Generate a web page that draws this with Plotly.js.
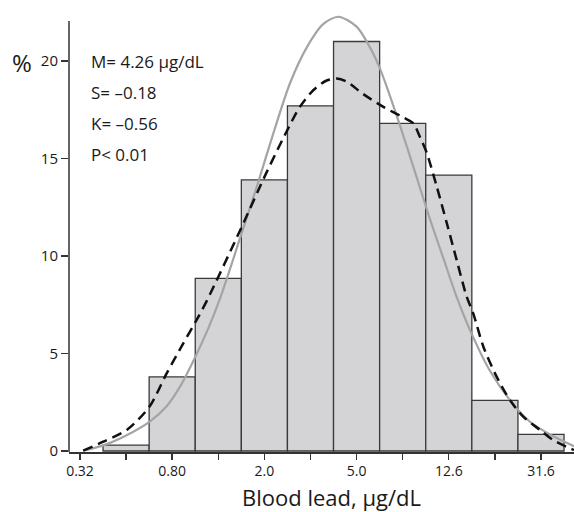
<!DOCTYPE html>
<html>
<head>
<meta charset="utf-8">
<script src="https://cdn.plot.ly/plotly-3.0.1.min.js"></script>
<style>html,body{margin:0;padding:0;background:#fff;}</style>
</head>
<body>
<div id="chart" style="width:574px;height:512px;"></div>
<script>
// Histogram bins: centres in log10(µg/dL), bar heights in %
const binCentersLog10 = [-0.3, -0.1, 0.1, 0.3, 0.5, 0.7, 0.9, 1.1, 1.3, 1.5];
const binPercent = [0.3, 3.8, 8.85, 13.9, 17.7, 21.0, 16.8, 14.15, 2.6, 0.85];
const binWidthLog10 = 0.2;

// Fitted normal curve (grey)
const normalX = [-0.486, -0.399, -0.300, -0.199, -0.124, -0.066, -0.001, 0.057, 0.107, 0.194, 0.267, 0.339, 0.411, 0.484, 0.556, 0.621, 0.700, 0.758, 0.802, 0.845, 0.888, 0.932, 0.975, 1.018, 1.076, 1.134, 1.192, 1.279, 1.366, 1.452, 1.539, 1.643];
const normalY = [0.02, 0.29, 0.8, 1.5, 2.3, 3.3, 4.8, 6.3, 7.8, 10.9, 13.55, 16.3, 18.86, 20.7, 21.9, 22.27, 21.76, 20.7, 19.6, 18.2, 16.7, 15.1, 13.5, 11.9, 9.9, 7.9, 6.2, 4.1, 2.6, 1.5, 0.85, 0.25];

// Kernel density curve (black dashed)
const kernelX = [-0.486, -0.399, -0.297, -0.199, -0.124, -0.052, 0.006, 0.050, 0.194, 0.310, 0.397, 0.454, 0.512, 0.570, 0.614, 0.657, 0.729, 0.816, 0.903, 0.946, 0.975, 1.004, 1.048, 1.091, 1.134, 1.178, 1.206, 1.250, 1.308, 1.366, 1.423, 1.496, 1.553, 1.643];
const kernelY = [0.02, 0.48, 1.08, 2.27, 3.98, 5.52, 6.72, 7.7, 11.3, 14.3, 16.4, 17.65, 18.5, 19.0, 19.1, 18.94, 18.3, 17.65, 17.1, 16.8, 16.1, 15.3, 13.55, 11.7, 9.8, 7.9, 7.06, 5.35, 3.8, 2.6, 1.76, 1.08, 0.56, 0.05];

// Axis ticks
const xTickVals = [-0.5, -0.1, 0.3, 0.7, 1.1, 1.5];
const xTickText = ['0.32', '0.80', '2.0', '5.0', '12.6', '31.6'];
const xMinorVals = [-0.3, 0.1, 0.5, 0.9, 1.3];
const yTickVals = [0, 5, 10, 15, 20];

const xTitle = 'Blood lead, µg/dL';
const yTitle = '%';
const statLines = ['M= 4.26 µg/dL', 'S= –0.18', 'K= –0.56', 'P< 0.01'];

const FONT = 'Open Sans, Noto Sans, sans-serif';

const traces = [
  {
    type: 'bar', x: binCentersLog10, y: binPercent, width: binWidthLog10,
    marker: {color: '#d4d4d6', line: {color: '#3a3a3a', width: 1.3}},
    hoverinfo: 'skip', showlegend: false
  },
  {
    type: 'scatter', mode: 'lines', x: normalX, y: normalY,
    line: {color: '#a4a4a4', width: 2.2, shape: 'spline', smoothing: 0.8},
    showlegend: false
  },
  {
    type: 'scatter', mode: 'lines', x: kernelX, y: kernelY,
    line: {color: '#111111', width: 2.5, dash: '10px,6px', shape: 'spline', smoothing: 0.8},
    showlegend: false
  }
];

const annotations = statLines.map((t, i) => ({
  text: t, xref: 'paper', yref: 'paper',
  x: (89 - 69) / 505, xanchor: 'left',
  y: 1 - ((61 + i * 31.3) - 10) / 442, yanchor: 'middle',
  showarrow: false, font: {family: FONT, size: 17, color: '#1a1a1a'}
}));
annotations.push({
  text: yTitle, xref: 'paper', yref: 'paper',
  x: (22 - 69) / 505, xanchor: 'center',
  y: 1 - (62 - 10) / 442, yanchor: 'middle',
  showarrow: false, font: {family: FONT, size: 24, color: '#1a1a1a'}
});
annotations.push({
  text: xTitle, xref: 'paper', yref: 'paper',
  x: (331 - 69) / 505, xanchor: 'center',
  y: 1 - (497 - 10) / 442, yanchor: 'middle',
  showarrow: false, font: {family: FONT, size: 22, color: '#1a1a1a'}
});

const layout = {
  width: 574, height: 512,
  margin: {l: 69, r: 0, t: 10, b: 60},
  paper_bgcolor: '#ffffff', plot_bgcolor: '#ffffff',
  bargap: 0,
  font: {family: FONT, color: '#1a1a1a'},
  xaxis: {
    range: [-0.5477, 1.6432],
    tickmode: 'array', tickvals: xTickVals, ticktext: xTickText,
    ticks: 'outside', ticklen: 6, tickwidth: 1.4, tickcolor: '#333',
    minor: {tickmode: 'array', tickvals: xMinorVals, ticks: 'outside', ticklen: 6, tickwidth: 1.4, tickcolor: '#333', showgrid: false},
    showline: true, linecolor: '#333', linewidth: 1.5,
    showgrid: false, zeroline: false,
    tickfont: {family: FONT, size: 14, color: '#1a1a1a'}
  },
  yaxis: {
    range: [-0.05, 22.615],
    tickmode: 'array', tickvals: yTickVals,
    ticks: 'outside', ticklen: 7, tickwidth: 1.4, tickcolor: '#333',
    showline: false, showgrid: false, zeroline: false,
    tickfont: {family: FONT, size: 15, color: '#1a1a1a'}
  },
  shapes: [{
    type: 'line', xref: 'paper', yref: 'y', x0: 0, x1: 0, y0: -0.05, y1: 22.05,
    line: {color: '#333', width: 1.5}
  }],
  annotations: annotations
};

Plotly.newPlot('chart', traces, layout, {staticPlot: true, displayModeBar: false});
</script>
</body>
</html>
